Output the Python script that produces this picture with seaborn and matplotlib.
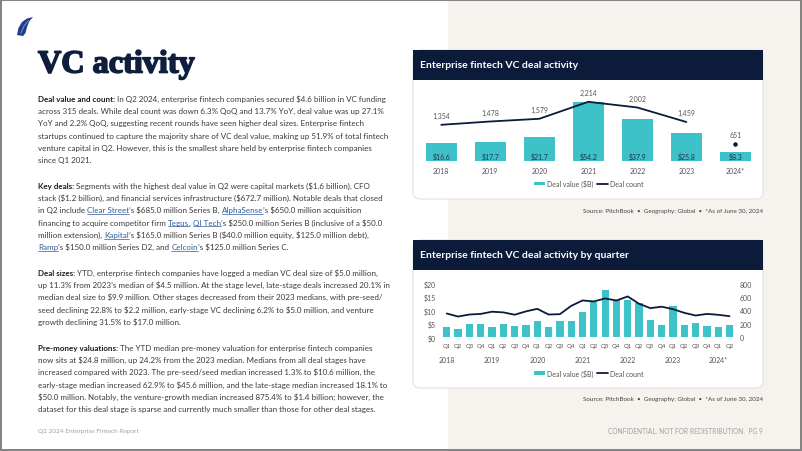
import matplotlib
matplotlib.use("Agg")
import matplotlib.pyplot as plt
import matplotlib.transforms as mtransforms
import matplotlib.patheffects as pe
from matplotlib.patches import FancyBboxPatch, Rectangle, Polygon, Patch
from matplotlib.lines import Line2D
from matplotlib.font_manager import FontProperties, findfont
import numpy as np
import pandas as pd
import seaborn as sns

# ---- data -------------------------------------------------------------
years = ["2018", "2019", "2020", "2021", "2022", "2023", "2024*"]
annual_value = [16.6, 17.7, 21.7, 54.2, 37.9, 25.8, 8.3]
annual_count = [1354, 1478, 1579, 2214, 2002, 1459, 651]

quarter_labels = ["Q1", "Q2", "Q3", "Q4"] * 6 + ["Q1", "Q2"]
quarter_years = ["2018"] * 4 + ["2019"] * 4 + ["2020"] * 4 + ["2021"] * 4 + ["2022"] * 4 + ["2023"] * 4 + ["2024*"] * 2
quarter_value = [3.9, 3.0, 4.9, 4.8,
                 3.8, 5.0, 4.3, 4.6,
                 6.0, 3.7, 6.0, 6.0,
                 9.3, 13.3, 17.6, 14.0,
                 14.0, 12.9, 6.3, 4.7,
                 11.6, 4.6, 5.2, 4.4,
                 3.8, 4.5]
quarter_count = [355, 310, 340, 349,
                 382, 372, 337, 387,
                 425, 340, 345, 469,
                 550, 535, 580, 549,
                 610, 500, 435, 457,
                 420, 365, 325, 349,
                 336, 315]

left_ticks = [0, 5, 10, 15, 20]
right_ticks = [0, 200, 400, 600, 800]

# ---- colours ----------------------------------------------------------
TEAL = "#3ec2c9"
NAVY = "#0c1b3a"
BEIGE = "#f6f3ee"
TEXT = "#3a3a3a"
DARK = "#1c1c1c"
LINK = "#2f5a9e"
GREY = "#555555"
LIGHT = "#a0a0a0"

sns.set_theme(style="white")
plt.rcParams["text.parse_math"] = False


def have(name):
    try:
        findfont(FontProperties(family=name), fallback_to_default=False)
        return True
    except ValueError:
        return False


FAMILY = "Liberation Sans Narrow" if have("Liberation Sans Narrow") else "Lato"
plt.rcParams["font.family"] = [FAMILY, "DejaVu Sans"]

W, H = 802, 452
fig = plt.figure(figsize=(W / 100, H / 100), dpi=100)
fig.patch.set_facecolor("white")
PX = mtransforms.Affine2D().scale(0.01, -0.01).translate(0, H / 100) + fig.dpi_scale_trans
renderer = fig.canvas.get_renderer()


def width_of(s, fp):
    w1 = renderer.get_text_width_height_descent(s + "|", fp, ismath=False)[0]
    w0 = renderer.get_text_width_height_descent("|", fp, ismath=False)[0]
    return w1 - w0


def fit(text, target, family=FAMILY, weight="normal"):
    fp = FontProperties(family=family, weight=weight, size=10)
    return 10 * target / width_of(text, fp)


def px_axes(x0, y0, x1, y1):
    return fig.add_axes([x0 / W, 1 - y1 / H, (x1 - x0) / W, (y1 - y0) / H])


# ---- page background --------------------------------------------------
fig.add_artist(Rectangle((448, 0), 354, 451, transform=PX, fc=BEIGE, ec="none", zorder=-10))
fig.add_artist(Rectangle((0.7, 0.7), 800.6, 450, transform=PX, fill=False, ec="#808080", lw=1.4, zorder=5))

# logo
fig.add_artist(Polygon([(17, 36), (18.5, 29), (22, 23), (27, 19.5), (33, 18), (29.5, 22),
                        (27, 28), (25.5, 34), (23, 37)], transform=PX, fc="#1f3d8a", ec="none"))
fig.add_artist(Line2D([21, 24, 28.5], [34, 27, 21.5], transform=PX, color="#8fa6d6", lw=0.6))

# title
title_size = fit("VC activity", 157, family="Liberation Serif", weight="bold")
fig.text(38, 73.5, "VC activity", transform=PX, family="Liberation Serif", weight="bold",
         size=title_size, color="#0f1e3d", va="baseline",
         path_effects=[pe.withStroke(linewidth=1.2, foreground="#0f1e3d")])

# ---- body text --------------------------------------------------------
body_size = fit("startups continued to capture the majority share of VC deal value, making up 51.9% of total fintech", 348)
fonts = {
    "n": FontProperties(family=FAMILY, size=body_size),
    "b": FontProperties(family=FAMILY, size=body_size, weight="bold"),
    "l": FontProperties(family=FAMILY, size=body_size),
}
colors = {"n": TEXT, "b": DARK, "l": LINK}

paragraphs = [
    (99, [
        [("Deal value and count:", "b"), (" In Q2 2024, enterprise fintech companies secured $4.6 billion in VC funding", "n")],
        "across 315 deals. While deal count was down 6.3% QoQ and 13.7% YoY, deal value was up 27.1%",
        "YoY and 2.2% QoQ, suggesting recent rounds have seen higher deal sizes. Enterprise fintech",
        "startups continued to capture the majority share of VC deal value, making up 51.9% of total fintech",
        "venture capital in Q2. However, this is the smallest share held by enterprise fintech companies",
        "since Q1 2021.",
    ]),
    (186, [
        [("Key deals:", "b"), (" Segments with the highest deal value in Q2 were capital markets ($1.6 billion), CFO", "n")],
        "stack ($1.2 billion), and financial services infrastructure ($672.7 million). Notable deals that closed",
        [("in Q2 include ", "n"), ("Clear Street", "l"), ("’s $685.0 million Series B, ", "n"),
         ("AlphaSense", "l"), ("’s $650.0 million acquisition", "n")],
        [("financing to acquire competitor firm ", "n"), ("Tegus", "l"), (", ", "n"), ("QI Tech", "l"),
         ("’s $250.0 million Series B (inclusive of a $50.0", "n")],
        [("million extension), ", "n"), ("Kapital", "l"),
         ("’s $165.0 million Series B ($40.0 million equity, $125.0 million debt),", "n")],
        [("Ramp", "l"), ("’s $150.0 million Series D2, and ", "n"), ("Celcoin", "l"),
         ("’s $125.0 million Series C.", "n")],
    ]),
    (273, [
        [("Deal sizes:", "b"), (" YTD, enterprise fintech companies have logged a median VC deal size of $5.0 million,", "n")],
        "up 11.3% from 2023’s median of $4.5 million. At the stage level, late-stage deals increased 20.1% in",
        "median deal size to $9.9 million. Other stages decreased from their 2023 medians, with pre-seed/",
        "seed declining 22.8% to $2.2 million, early-stage VC declining 6.2% to $5.0 million, and venture",
        "growth declining 31.5% to $17.0 million.",
    ]),
    (348, [
        [("Pre-money valuations:", "b"), (" The YTD median pre-money valuation for enterprise fintech companies", "n")],
        "now sits at $24.8 million, up 24.2% from the 2023 median. Medians from all deal stages have",
        "increased compared with 2023. The pre-seed/seed median increased 1.3% to $10.6 million, the",
        "early-stage median increased 62.9% to $45.6 million, and the late-stage median increased 18.1% to",
        "$50.0 million. Notably, the venture-growth median increased 875.4% to $1.4 billion; however, the",
        "dataset for this deal stage is sparse and currently much smaller than those for other deal stages.",
    ]),
]

for y0, lines in paragraphs:
    for k, line in enumerate(lines):
        segs = [(line, "n")] if isinstance(line, str) else line
        x = 38
        base = y0 + k * 12.35 + 2.5
        for s, kind in segs:
            fp = fonts[kind]
            fig.text(x, base, s, transform=PX, fontproperties=fp, color=colors[kind], va="baseline")
            w = width_of(s, fp)
            if kind == "l":
                fig.add_artist(Line2D([x, x + w], [base + 1.6] * 2, transform=PX, color=LINK, lw=0.5))
            x += w

# footers
fig.text(38, 431, "Q2 2024 Enterprise Fintech Report", transform=PX, color=LIGHT, va="center",
         size=fit("Q2 2024 Enterprise Fintech Report", 101))
fig.text(763, 431, "CONFIDENTIAL. NOT FOR REDISTRIBUTION.  PG 9", transform=PX, color=LIGHT,
         va="center", ha="right", size=fit("CONFIDENTIAL. NOT FOR REDISTRIBUTION.  PG 9", 154))

# ---- chart cards ------------------------------------------------------
chart_fs = fit("Deal value ($B)", 46)
quarter_fs = fit("Q1", 8.2)
head_fs = fit("Enterprise fintech VC deal activity", 158, weight="bold")
src_text = "Source: PitchBook  •  Geography: Global  •  *As of June 30, 2024"
src_fs = fit(src_text, 180)

for top, bottom, title in [(51, 200, "Enterprise fintech VC deal activity"),
                           (241, 389, "Enterprise fintech VC deal activity by quarter")]:
    fig.add_artist(FancyBboxPatch((413, top), 350, bottom - top, boxstyle="round,pad=0,rounding_size=7",
                                  transform=PX, fc="white", ec="#e2e2e2", lw=0.8, zorder=-5))
    fig.add_artist(Rectangle((413, top), 350, 30, transform=PX, fc=NAVY, ec="none", zorder=-4))
    fig.text(420, top + 15, title, transform=PX, color="white", weight="bold", size=head_fs, va="center")
    fig.text(763, bottom + 11, src_text, transform=PX, color="#444444", size=src_fs, va="center", ha="right")

legend_handles = [Patch(facecolor=TEAL, edgecolor="none", label="Deal value ($B)"),
                  Line2D([], [], color=NAVY, lw=1.3, label="Deal count")]


def style(ax):
    ax.set_facecolor("none")
    ax.set_xlabel("")
    ax.set_ylabel("")
    for s in ax.spines.values():
        s.set_visible(False)
    ax.grid(False)


# ---- chart 1: annual --------------------------------------------------
ax1 = px_axes(416, 85, 760, 162)
sns.barplot(x=years, y=annual_value, order=years, color=TEAL, saturation=1, width=0.63,
            linewidth=0, ax=ax1)
ax1b = ax1.twinx()
sns.lineplot(x=np.arange(6), y=annual_count[:6], color=NAVY, linewidth=1.3, ax=ax1b)
ax1b.scatter([6], [annual_count[6]], s=5, color=NAVY, zorder=3)
ax1.set_xlim(-0.516, 6.504)
ax1.set_ylim(0, 70.3)
ax1b.set_ylim(0, 2880)
for ax in (ax1, ax1b):
    style(ax)
    ax.set_yticks([])
ax1.tick_params(axis="x", length=0, pad=4.3, labelsize=chart_fs, labelcolor=GREY)
for i, v in enumerate(annual_value):
    ax1.annotate(f"${v}", (i, 0), xytext=(0, 3.4), textcoords="offset points", ha="center",
                 va="center", fontsize=chart_fs, color="#22324f")
for i, v in enumerate(annual_count):
    ax1b.annotate(f"{v:,}", (i, v), xytext=(0, 6.6), textcoords="offset points", ha="center",
                  va="center", fontsize=chart_fs, color=GREY)
ax1.legend(handles=legend_handles, loc="center", bbox_to_anchor=(588.5, 184.3), bbox_transform=PX,
           ncol=2, frameon=False, fontsize=chart_fs, handlelength=1.7, handleheight=0.5,
           handletextpad=0.2, columnspacing=0.5, labelcolor=GREY)

# ---- chart 2: quarterly -----------------------------------------------
periods = [f"{y} {q}" for y, q in zip(quarter_years, quarter_labels)]
qdf = pd.DataFrame({"period": periods, "value": quarter_value, "count": quarter_count})

ax2 = px_axes(440, 284.7, 737, 338.3)
sns.barplot(data=qdf, x="period", y="value", order=periods, color=TEAL, saturation=1, width=0.64,
            linewidth=0, ax=ax2)
ax2b = ax2.twinx()
sns.lineplot(x=np.arange(len(periods)), y=qdf["count"].to_numpy(), color=NAVY, linewidth=1.3, ax=ax2b)
ax2.set_xlim(-0.6, 25.66)
ax2.set_ylim(0, 20)
ax2b.set_ylim(0, 800)
for ax in (ax2, ax2b):
    style(ax)
ax2.set_xticks(range(len(periods)))
ax2.set_xticklabels(quarter_labels)
ax2.set_yticks(left_ticks)
ax2.set_yticklabels([f"${t}" for t in left_ticks])
ax2b.set_yticks(right_ticks)
ax2b.set_yticklabels([str(t) for t in right_ticks])
ax2.tick_params(axis="x", length=0, pad=4.3, labelsize=quarter_fs, labelcolor=GREY)
ax2.tick_params(axis="y", length=0, pad=2.8, labelsize=chart_fs, labelcolor=GREY)
ax2b.tick_params(axis="y", length=0, pad=2.2, labelsize=chart_fs, labelcolor=GREY)
seen = []
for i, y in enumerate(quarter_years):
    if y not in seen:
        seen.append(y)
        ax2.annotate(y, (i, 0), xycoords=("data", "axes fraction"), xytext=(0, -16.1),
                     textcoords="offset points", ha="center", va="center", fontsize=chart_fs, color=GREY)
ax2.legend(handles=legend_handles, loc="center", bbox_to_anchor=(588.5, 374), bbox_transform=PX,
           ncol=2, frameon=False, fontsize=chart_fs, handlelength=1.7, handleheight=0.5,
           handletextpad=0.2, columnspacing=0.5, labelcolor=GREY)

fig.savefig("out.png", dpi=100)
